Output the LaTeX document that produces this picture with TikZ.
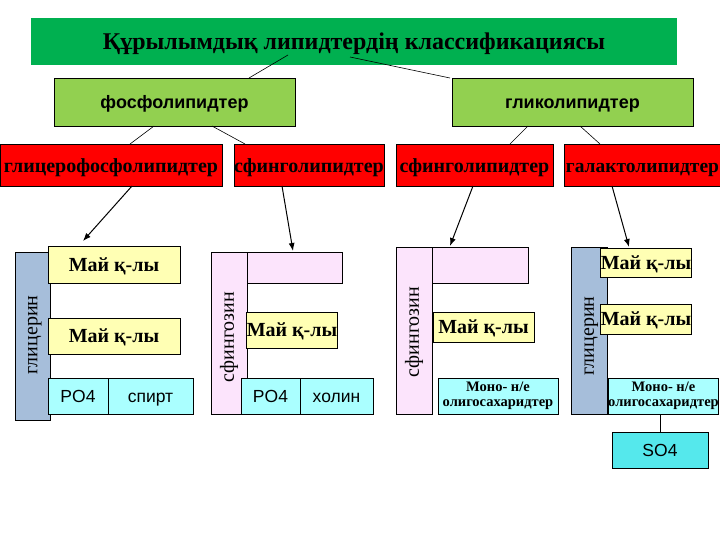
\documentclass[tikz,border=0pt]{standalone}
\usepackage{fontspec}
\setmainfont{Liberation Serif}
\setsansfont{Liberation Sans}
\usetikzlibrary{arrows.meta}
\definecolor{titlegreen}{RGB}{0,176,80}
\definecolor{lightgreen}{RGB}{146,208,80}
\definecolor{boxred}{RGB}{255,0,0}
\definecolor{paleyellow}{RGB}{255,255,180}
\definecolor{bluegray}{RGB}{166,190,218}
\definecolor{palepink}{RGB}{252,228,252}
\definecolor{palecyan}{RGB}{170,255,255}
\definecolor{deepcyan}{RGB}{85,232,236}
\tikzset{
  box/.style={draw=black, line width=0.8pt, inner sep=0pt, outer sep=0pt},
  titlebox/.style={fill=titlegreen, inner sep=0pt, outer sep=0pt, text height=16pt, text depth=0pt, font=\fontsize{24}{27}\selectfont\bfseries},
  catbox/.style={box, fill=lightgreen, text height=14pt, text depth=0pt, font=\sffamily\bfseries\fontsize{18}{20}\selectfont},
  redbox/.style={box, fill=boxred, text height=15pt, text depth=0pt, font=\bfseries\fontsize{20}{22}\selectfont},
  maybox/.style={box, fill=paleyellow, text height=13.4pt, text depth=0pt, font=\bfseries\fontsize{20}{22}\selectfont},
  glycbar/.style={box, fill=bluegray},
  sphbar/.style={box, fill=palepink},
  pinkbox/.style={box, fill=palepink},
  cyanbox/.style={box, fill=palecyan, text height=12.8pt, text depth=0pt, font=\sffamily\fontsize{17.5}{20}\selectfont},
  monobox/.style={box, fill=palecyan, font=\bfseries\fontsize{14.5}{15.5}\selectfont, align=center},
  sobox/.style={box, fill=deepcyan, text height=12.8pt, text depth=0pt, font=\sffamily\fontsize{17.5}{20}\selectfont},
  vlabel/.style={inner sep=0pt, rotate=90, text height=9.5pt, text depth=0pt, font=\fontsize{20}{22}\selectfont},
  link/.style={draw=black, line width=0.6pt},
  arrowlink/.style={draw=black, line width=1pt, -{Latex[length=8pt,width=6pt]}}
}
\begin{document}
\begin{tikzpicture}[x=1pt,y=-1pt]
\useasboundingbox[fill=white] (0,0) rectangle (720,540);

% title and categories
\node[titlebox, minimum width=646pt, minimum height=47pt] (title) at (354,41.5) {Құрылымдық липидтердің классификациясы};
\node[catbox, minimum width=241pt, minimum height=48pt] (fosfo) at (174.5,102) {фосфолипидтер};
\node[catbox, minimum width=241pt, minimum height=48pt] (gliko) at (572.5,102) {гликолипидтер};

% red boxes
\node[redbox, minimum width=222pt, minimum height=42pt] (glyph) at (111,165) {глицерофосфолипидтер};
\node[redbox, minimum width=150pt, minimum height=42pt] (sphph) at (309,165) {сфинголипидтер};
\node[redbox, minimum width=157pt, minimum height=42pt] (sphgl) at (474.5,165) {сфинголипидтер};
\node[redbox, minimum width=157pt, minimum height=42pt, font=\bfseries\fontsize{19.5}{22}\selectfont] (galac) at (642.5,165) {галактолипидтер};

% connectors top
\coordinate (t1) at (288,55);
\coordinate (t2) at (350,57);
\coordinate (f1) at (249,78);
\coordinate (g1) at (450,78);
\draw[link] (t1) -- (f1);
\draw[link] (t2) -- (g1);
\coordinate (fb1) at (154,126);
\coordinate (fb2) at (212,126);
\coordinate (gb1) at (528,126);
\coordinate (gb2) at (580,126);
\coordinate (r1) at (130,144);
\coordinate (r2) at (245,144);
\coordinate (r3) at (510,144);
\coordinate (r4) at (600,144);
\draw[link] (fb1) -- (r1);
\draw[link] (fb2) -- (r2);
\draw[link] (gb1) -- (r3);
\draw[link] (gb2) -- (r4);

% group 1: glycerophospholipid
\node[glycbar, minimum width=35pt, minimum height=168pt] (gbar1) at (32.5,336) {};
\node[vlabel] (gtext1) at (32.5,335) {глицерин};
\node[maybox, minimum width=132pt, minimum height=37pt] (may1a) at (114,264.5) {Май қ-лы};
\node[maybox, minimum width=132pt, minimum height=36pt] (may1b) at (114,336) {Май қ-лы};
\node[cyanbox, minimum width=60pt, minimum height=36pt] (po1) at (78,396) {PO4};
\node[cyanbox, minimum width=85pt, minimum height=36pt] (spirt) at (150.5,396) {спирт};

% group 2: sphingophospholipid
\node[sphbar, minimum width=36pt, minimum height=162pt] (sbar2) at (229,333) {};
\node[vlabel] (stext2) at (229,337) {сфингозин};
\node[pinkbox, minimum width=95pt, minimum height=31pt] (pink2) at (294.5,267.5) {};
\node[maybox, minimum width=90pt, minimum height=36pt] (may2) at (292,330) {Май қ-лы};
\node[cyanbox, minimum width=59pt, minimum height=36pt] (po2) at (270.5,396) {PO4};
\node[cyanbox, minimum width=73pt, minimum height=36pt] (cholin) at (336.5,396) {холин};

% group 3: sphingoglycolipid
\node[sphbar, minimum width=36pt, minimum height=167pt] (sbar3) at (414,330.5) {};
\node[vlabel] (stext3) at (414,332) {сфингозин};
\node[pinkbox, minimum width=96pt, minimum height=36pt] (pink3) at (480,265) {};
\node[maybox, minimum width=101pt, minimum height=30pt] (may3) at (483.5,327) {Май қ-лы};
\node[monobox, minimum width=120pt, minimum height=36pt] (mono3) at (498,396) {Моно- н/е\\олигосахаридтер};

% group 4: galactolipid
\node[glycbar, minimum width=36pt, minimum height=167pt] (gbar4) at (589,330.5) {};
\node[vlabel] (gtext4) at (589,336) {глицерин};
\node[maybox, minimum width=84pt, minimum height=29pt] (may4a) at (646,262.5) {Май қ-лы};
\node[maybox, minimum width=84pt, minimum height=30pt] (may4b) at (646,319) {Май қ-лы};
\node[monobox, minimum width=109pt, minimum height=36pt] (mono4) at (663.5,396) {Моно- н/е\\олигосахаридтер};
\node[sobox, minimum width=96pt, minimum height=36pt] (so4) at (660,450) {SO4};
\draw[link] (so4.north) -- (so4.north |- mono4.south);

% arrows
\coordinate (a1s) at (132,186);
\coordinate (a1e) at (83,241);
\coordinate (a2s) at (282,186);
\coordinate (a2e) at (293,251);
\coordinate (a3s) at (473,186);
\coordinate (a3e) at (450,246);
\coordinate (a4s) at (612,186);
\coordinate (a4e) at (629,247);
\draw[arrowlink] (a1s) -- (a1e);
\draw[arrowlink] (a2s) -- (a2e);
\draw[arrowlink] (a3s) -- (a3e);
\draw[arrowlink] (a4s) -- (a4e);
\end{tikzpicture}
\end{document}
